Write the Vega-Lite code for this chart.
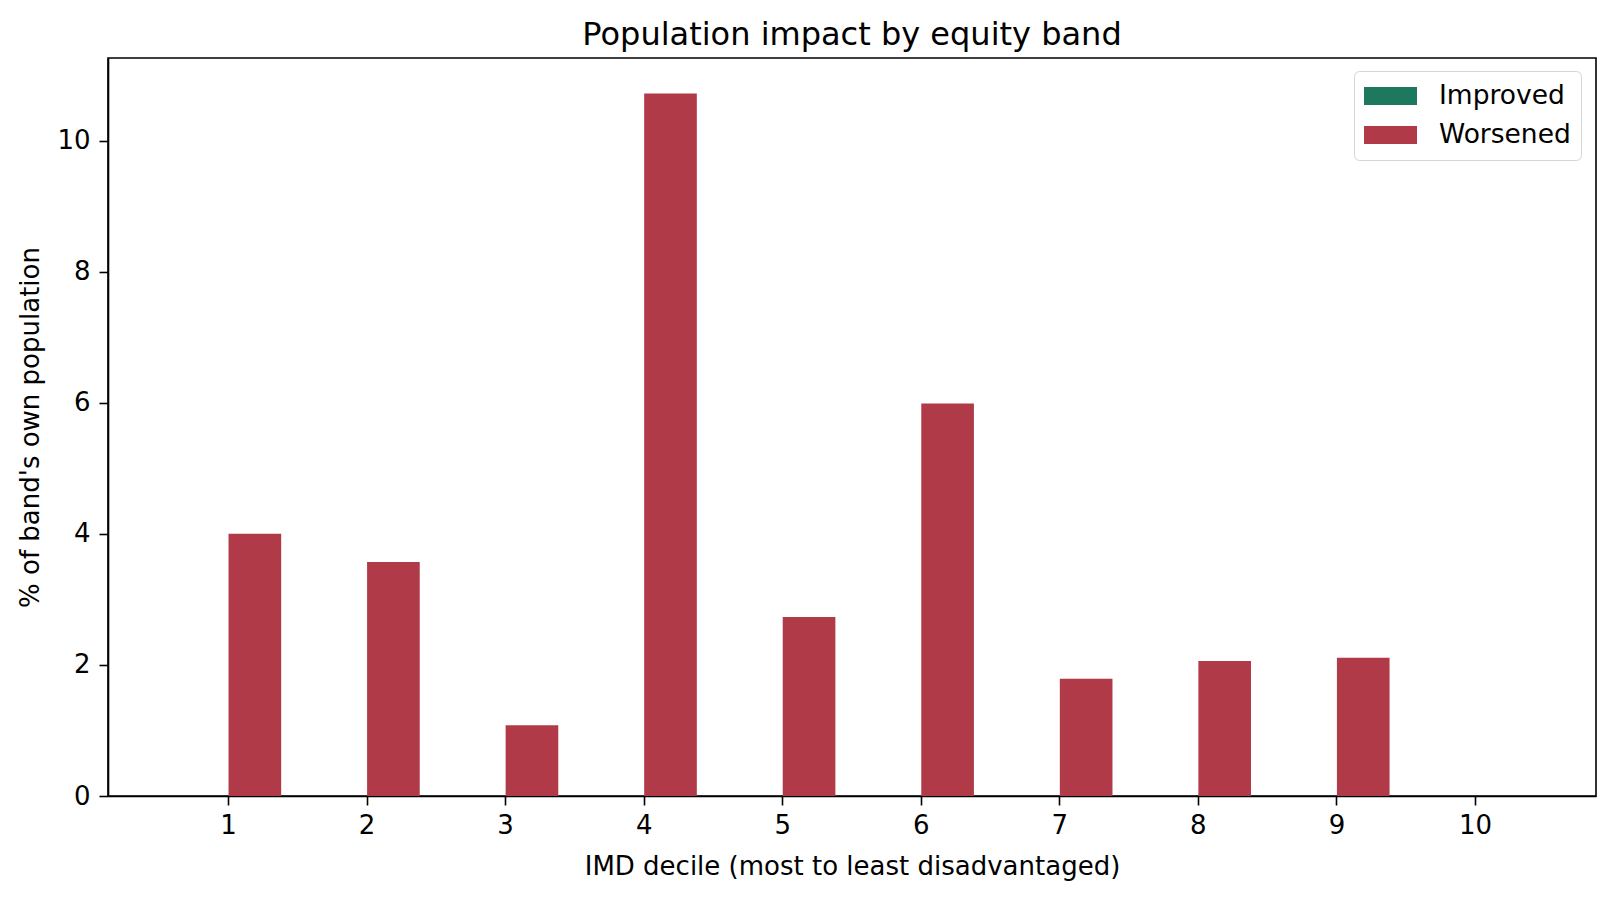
{
  "$schema": "https://vega.github.io/schema/vega-lite/v6.json",
  "width": 1488,
  "height": 738,
  "autosize": {"type": "none"},
  "padding": {"left": 108, "top": 58, "right": 19, "bottom": 102},
  "background": "white",
  "title": {
    "text": "Population impact by equity band",
    "fontSize": 32,
    "fontWeight": "normal",
    "font": "DejaVu Sans",
    "color": "black",
    "anchor": "middle",
    "baseline": "alphabetic",
    "offset": -19
  },
  "data": {
    "values": [
      {"decile": 1, "series": "Improved", "pct": 0},
      {"decile": 1, "series": "Worsened", "pct": 4.00},
      {"decile": 2, "series": "Improved", "pct": 0},
      {"decile": 2, "series": "Worsened", "pct": 3.57},
      {"decile": 3, "series": "Improved", "pct": 0},
      {"decile": 3, "series": "Worsened", "pct": 1.08},
      {"decile": 4, "series": "Improved", "pct": 0},
      {"decile": 4, "series": "Worsened", "pct": 10.72},
      {"decile": 5, "series": "Improved", "pct": 0},
      {"decile": 5, "series": "Worsened", "pct": 2.73},
      {"decile": 6, "series": "Improved", "pct": 0},
      {"decile": 6, "series": "Worsened", "pct": 5.99},
      {"decile": 7, "series": "Improved", "pct": 0},
      {"decile": 7, "series": "Worsened", "pct": 1.79},
      {"decile": 8, "series": "Improved", "pct": 0},
      {"decile": 8, "series": "Worsened", "pct": 2.06},
      {"decile": 9, "series": "Improved", "pct": 0},
      {"decile": 9, "series": "Worsened", "pct": 2.11},
      {"decile": 10, "series": "Improved", "pct": 0},
      {"decile": 10, "series": "Worsened", "pct": 0}
    ]
  },
  "mark": {"type": "bar"},
  "encoding": {
    "x": {
      "field": "decile",
      "type": "ordinal",
      "scale": {"type": "band", "paddingInner": 0.24, "paddingOuter": 0.49},
      "axis": {
        "title": "IMD decile (most to least disadvantaged)",
        "labelAngle": 0,
        "labelPadding": 7,
        "titlePadding": 15
      }
    },
    "xOffset": {
      "field": "series",
      "type": "nominal",
      "scale": {"domain": ["Improved", "Worsened"], "paddingInner": 0, "paddingOuter": 0}
    },
    "y": {
      "field": "pct",
      "type": "quantitative",
      "scale": {"domain": [0, 11.26], "nice": false, "zero": true},
      "axis": {
        "title": "% of band's own population",
        "values": [0, 2, 4, 6, 8, 10],
        "labelPadding": 9,
        "titlePadding": 13,
        "grid": false
      }
    },
    "color": {
      "field": "series",
      "type": "nominal",
      "scale": {"domain": ["Improved", "Worsened"], "range": ["#1e785e", "#b03a48"]},
      "legend": {
        "title": null,
        "orient": "none",
        "legendX": 1246,
        "legendY": 13,
        "symbolType": "M-1,-0.34H1V0.34H-1Z",
        "symbolSize": 2809,
        "symbolStrokeWidth": 0,
        "symbolOpacity": 1,
        "clipHeight": 30,
        "rowPadding": 9,
        "labelOffset": 22,
        "labelFontSize": 26.5,
        "labelFont": "DejaVu Sans",
        "labelColor": "black",
        "padding": 10
      }
    }
  },
  "config": {
    "font": "DejaVu Sans",
    "view": {"stroke": "black", "strokeWidth": 1.6},
    "legend": {
      "strokeColor": "#d5d5d5",
      "cornerRadius": 5,
      "fillColor": "white"
    },
    "axis": {
      "domainColor": "black",
      "domainWidth": 1.6,
      "tickColor": "black",
      "tickWidth": 1.6,
      "tickSize": 9,
      "labelFont": "DejaVu Sans",
      "labelFontSize": 26,
      "labelColor": "black",
      "titleFont": "DejaVu Sans",
      "titleFontSize": 26,
      "titleFontWeight": "normal",
      "titleColor": "black",
      "grid": false
    }
  }
}
